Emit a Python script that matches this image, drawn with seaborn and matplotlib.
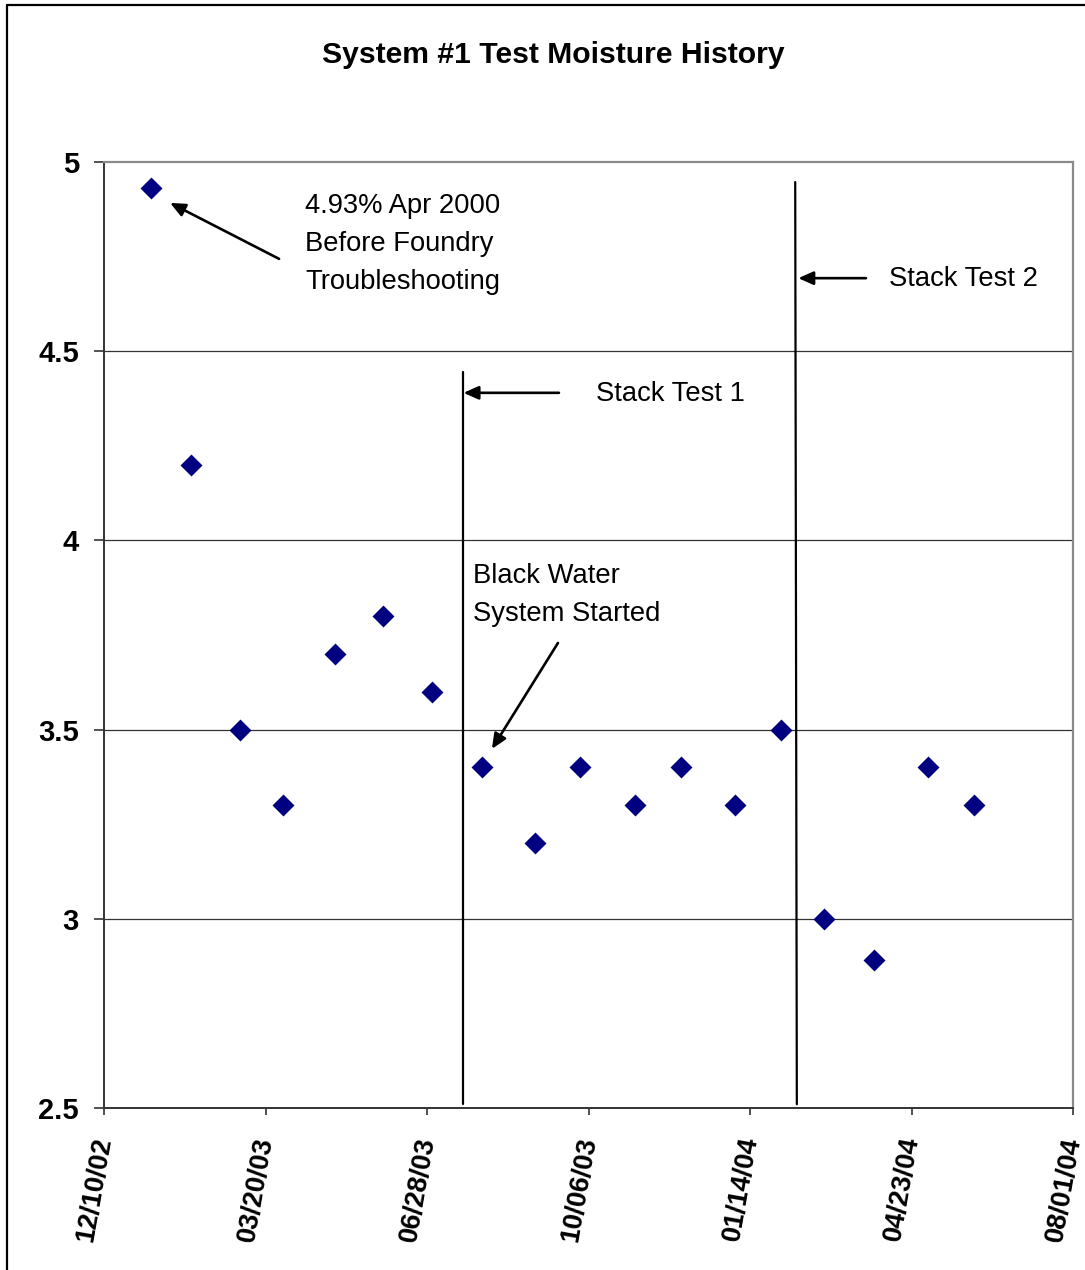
import matplotlib
matplotlib.use("Agg")
import matplotlib.pyplot as plt
import matplotlib.dates as mdates
from matplotlib.lines import Line2D
import seaborn as sns
import pandas as pd
import numpy as np

# ---- data ----
dates = ["2003-01-08", "2003-02-02", "2003-03-04", "2003-03-31", "2003-05-02",
         "2003-06-01", "2003-07-01", "2003-08-01", "2003-09-03", "2003-10-01",
         "2003-11-04", "2003-12-02", "2004-01-05", "2004-02-02", "2004-02-29",
         "2004-03-31", "2004-05-03", "2004-06-01"]
moisture = [4.93, 4.20, 3.50, 3.30, 3.70, 3.80, 3.60, 3.40, 3.20, 3.40,
            3.30, 3.40, 3.30, 3.50, 3.00, 2.89, 3.40, 3.30]
xtick_dates = ["2002-12-10", "2003-03-20", "2003-06-28", "2003-10-06",
               "2004-01-14", "2004-04-23", "2004-08-01"]
ytick_values = [2.5, 3, 3.5, 4, 4.5, 5]
ytick_labels = ["2.5", "3", "3.5", "4", "4.5", "5"]
stack_test1_date = "2003-07-20"
stack_test2_dates = ["2004-02-11", "2004-02-12"]

df = pd.DataFrame({"date": pd.to_datetime(dates), "moisture": moisture})

sns.set_style("white")
plt.rcParams["font.family"] = ["Liberation Sans", "DejaVu Sans"]
plt.rcParams["text.color"] = "black"
plt.rcParams["xtick.color"] = "black"
plt.rcParams["ytick.color"] = "black"
plt.rcParams["axes.labelcolor"] = "black"

fig = plt.figure(figsize=(10.85, 12.70), dpi=100)
ax = fig.add_axes([104/1085, 1 - 1108/1270, (1073-104)/1085, (1108-162)/1270])

# grid lines
for v in [3, 3.5, 4, 4.5]:
    ax.axhline(v, color="#333333", lw=0.9, zorder=1)

sns.scatterplot(data=df, x="date", y="moisture", marker="D", s=125,
                color="#000080", linewidth=0, ax=ax, zorder=4)

d0 = pd.Timestamp("2002-12-10")
def D(days):
    return d0 + pd.Timedelta(days=days)

# vertical event lines
ax.plot([pd.Timestamp(stack_test1_date)] * 2, [4.445, 2.51], color="black", lw=1.6, zorder=3)
ax.plot([pd.Timestamp(stack_test2_dates[0]), pd.Timestamp(stack_test2_dates[1])],
        [4.947, 2.51], color="black", lw=1.6, zorder=3)

arrow = dict(arrowstyle="-|>,head_length=0.9,head_width=0.4", lw=1.9,
             color="black", shrinkA=0, shrinkB=0)
fs_ann = 19.7

ax.annotate("", xy=(D(40.9), 4.892), xytext=(D(108.4), 4.744), arrowprops=arrow)
ax.text(D(124.5), 4.784, "4.93% Apr 2000\nBefore Foundry\nTroubleshooting",
        fontsize=fs_ann, ha="left", va="center", linespacing=1.6)

ax.annotate("", xy=(D(222.6), 4.390), xytext=(D(281.7), 4.390), arrowprops=arrow)
ax.text(D(304.6), 4.388, "Stack Test 1", fontsize=fs_ann, ha="left", va="center")

ax.annotate("", xy=(D(429.9), 4.693), xytext=(D(471.8), 4.693), arrowprops=arrow)
ax.text(D(486.1), 4.691, "Stack Test 2", fontsize=fs_ann, ha="left", va="center")

ax.annotate("", xy=(D(240.2), 3.449), xytext=(D(281.1), 3.729), arrowprops=arrow)
ax.text(D(228.5), 3.857, "Black Water\nSystem Started", fontsize=fs_ann,
        ha="left", va="center", linespacing=1.6)

# axes limits and ticks
ax.set_xlim(pd.Timestamp(xtick_dates[0]), pd.Timestamp(xtick_dates[-1]))
ax.set_ylim(2.5, 5)
ax.set_xticks(pd.to_datetime(xtick_dates))
ax.xaxis.set_major_formatter(mdates.DateFormatter("%m/%d/%y"))
ax.set_yticks(ytick_values)
ax.set_yticklabels(ytick_labels)
ax.set_xlabel("")
ax.set_ylabel("")
ax.grid(False)

ax.tick_params(axis="y", direction="out", length=7, width=1.2, color="#333333",
               pad=11, labelsize=21, left=True, labelcolor="black")
ax.tick_params(axis="x", direction="out", length=5, width=1.2, color="#333333",
               pad=16, labelsize=19.5, bottom=True, labelcolor="black")
for lab in ax.get_yticklabels():
    lab.set_fontweight("bold")
for lab in ax.get_xticklabels():
    lab.set_fontweight("bold")
    lab.set_rotation(80)
    lab.set_ha("right")
    lab.set_va("center")
    lab.set_rotation_mode("anchor")

for side in ["left", "bottom"]:
    ax.spines[side].set_color("#333333")
    ax.spines[side].set_linewidth(1.4)
for side in ["top", "right"]:
    ax.spines[side].set_color("#8a8a8a")
    ax.spines[side].set_linewidth(1.6)
    ax.spines[side].set_visible(True)

fig.text(553/1085, 1 - 55/1270, "System #1 Test Moisture History",
         fontsize=21.7, fontweight="bold", ha="center", va="center", color="black")

# outer frame (left and top edges)
fig.add_artist(Line2D([6.5/1085, 6.5/1085], [0, 1 - 4.5/1270], color="black", lw=1.6,
                      transform=fig.transFigure))
fig.add_artist(Line2D([6.5/1085, 1], [1 - 4.5/1270, 1 - 4.5/1270], color="black", lw=1.6,
                      transform=fig.transFigure))

fig.savefig("out.png", dpi=100)
